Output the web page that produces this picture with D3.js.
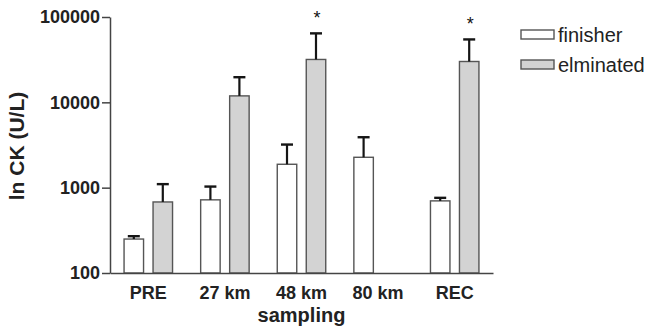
<!DOCTYPE html>
<html>
<head>
<meta charset="utf-8">
<script src="https://cdn.jsdelivr.net/npm/d3@7"></script>
<style>
  html, body { margin: 0; padding: 0; background: #fff; }
  svg { display: block; }
  text { font-family: "Liberation Sans", Arial, Helvetica, sans-serif; }
</style>
</head>
<body>
<svg id="chart" width="651" height="331"></svg>
<script>
// ---- data ----
const categories = ["PRE", "27 km", "48 km", "80 km", "REC"];
const seriesNames = ["finisher", "elminated"];
const finisherMean = [250, 720, 1880, 2270, 700];
const finisherErr  = [20, 310, 1320, 1630, 60];
const eliminatedMean = [680, 11900, 31800, null, 30100];
const eliminatedErr  = [420, 7800, 32500, null, 24500];
const significant = [false, false, true, false, true]; // asterisk over eliminated bar
const yTickValues = [100, 1000, 10000, 100000];
const yLabel = "ln CK (U/L)";
const xLabel = "sampling";

// ---- layout ----
const svg = d3.select("#chart");
const plot = { left: 110, right: 493, top: 17, bottom: 273 };

const x = d3.scaleBand().domain(categories).range([plot.left, plot.right]).padding(0);
const xInner = d3.scaleBand().domain(seriesNames).range([0, x.bandwidth()])
  .paddingInner(0.328).paddingOuter(0.485);
const y = d3.scaleLog().domain([100, 100000]).range([plot.bottom, plot.top]);

const fills = { finisher: "#ffffff", elminated: "#d3d3d3" };
const stroke = "#555555";

const rows = [];
categories.forEach((c, i) => {
  rows.push({ cat: c, s: "finisher", v: finisherMean[i], e: finisherErr[i] });
  rows.push({ cat: c, s: "elminated", v: eliminatedMean[i], e: eliminatedErr[i] });
});
const data = rows.filter(d => d.v != null);

// bars
svg.append("g").selectAll("rect").data(data).join("rect")
  .attr("x", d => x(d.cat) + xInner(d.s))
  .attr("y", d => y(d.v))
  .attr("width", xInner.bandwidth())
  .attr("height", d => plot.bottom - y(d.v))
  .attr("fill", d => fills[d.s])
  .attr("stroke", stroke)
  .attr("stroke-width", 1.4);

// error bars (upper only)
const eb = svg.append("g").attr("stroke", "#151515");
eb.selectAll("line.v").data(data).join("line").attr("class", "v")
  .attr("x1", d => x(d.cat) + xInner(d.s) + xInner.bandwidth() / 2)
  .attr("x2", d => x(d.cat) + xInner(d.s) + xInner.bandwidth() / 2)
  .attr("y1", d => y(d.v))
  .attr("y2", d => y(d.v + d.e))
  .attr("stroke-width", 2.2);
eb.selectAll("line.c").data(data).join("line").attr("class", "c")
  .attr("x1", d => x(d.cat) + xInner(d.s) + xInner.bandwidth() / 2 - 6)
  .attr("x2", d => x(d.cat) + xInner(d.s) + xInner.bandwidth() / 2 + 6)
  .attr("y1", d => y(d.v + d.e))
  .attr("y2", d => y(d.v + d.e))
  .attr("stroke-width", 2.4);

// asterisks
const sig = categories.map((c, i) => ({ cat: c, i })).filter(d => significant[d.i]);
svg.append("g").selectAll("text").data(sig).join("text")
  .attr("x", d => x(d.cat) + xInner("elminated") + xInner.bandwidth() / 2 + 1)
  .attr("y", d => y(eliminatedMean[d.i] + eliminatedErr[d.i]) - 9)
  .attr("text-anchor", "middle")
  .attr("font-size", 18)
  .attr("fill", "#111")
  .text("*");

// y axis
const yAxis = svg.append("g").attr("transform", `translate(${plot.left},0)`)
  .call(d3.axisLeft(y).tickValues(yTickValues).tickFormat(d3.format("d")).tickSize(8).tickSizeOuter(0).tickPadding(2));
yAxis.select(".domain").attr("stroke", "#444").attr("stroke-width", 1.5);
yAxis.selectAll(".tick line").attr("stroke", "#444").attr("stroke-width", 1.5);
yAxis.selectAll(".tick text").attr("font-size", 18).attr("font-weight", "bold")
  .attr("fill", "#222").attr("font-family", "Liberation Sans, Arial, sans-serif");

// x axis
const xAxis = svg.append("g").attr("transform", `translate(0,${plot.bottom})`)
  .call(d3.axisBottom(x).tickSize(0).tickSizeOuter(0).tickPadding(13));
xAxis.select(".domain").attr("stroke", "#444").attr("stroke-width", 1.5);
xAxis.selectAll(".tick text").attr("font-size", 18).attr("font-weight", "bold")
  .attr("fill", "#222").attr("font-family", "Liberation Sans, Arial, sans-serif");

// axis titles
svg.append("text")
  .attr("transform", `translate(17,${(plot.top + plot.bottom) / 2 + 1}) rotate(-90)`)
  .attr("text-anchor", "middle").attr("dy", "0.35em")
  .attr("font-size", 21).attr("font-weight", "bold").attr("fill", "#222")
  .text(yLabel);
svg.append("text")
  .attr("x", (plot.left + plot.right) / 2)
  .attr("y", 322)
  .attr("text-anchor", "middle")
  .attr("font-size", 20).attr("font-weight", "bold").attr("fill", "#222")
  .text(xLabel);

// legend
const lg = svg.append("g").attr("transform", "translate(521,30)");
seriesNames.forEach((s, i) => {
  const g = lg.append("g").attr("transform", `translate(0,${i * 30})`);
  g.append("rect").attr("x", 0).attr("y", 0).attr("width", 33).attr("height", 9)
    .attr("fill", fills[s]).attr("stroke", stroke).attr("stroke-width", 1.4);
  g.append("text").attr("x", 37).attr("y", 4.5).attr("dy", "0.35em")
    .attr("font-size", 20).attr("fill", "#222").text(s);
});
</script>
</body>
</html>
